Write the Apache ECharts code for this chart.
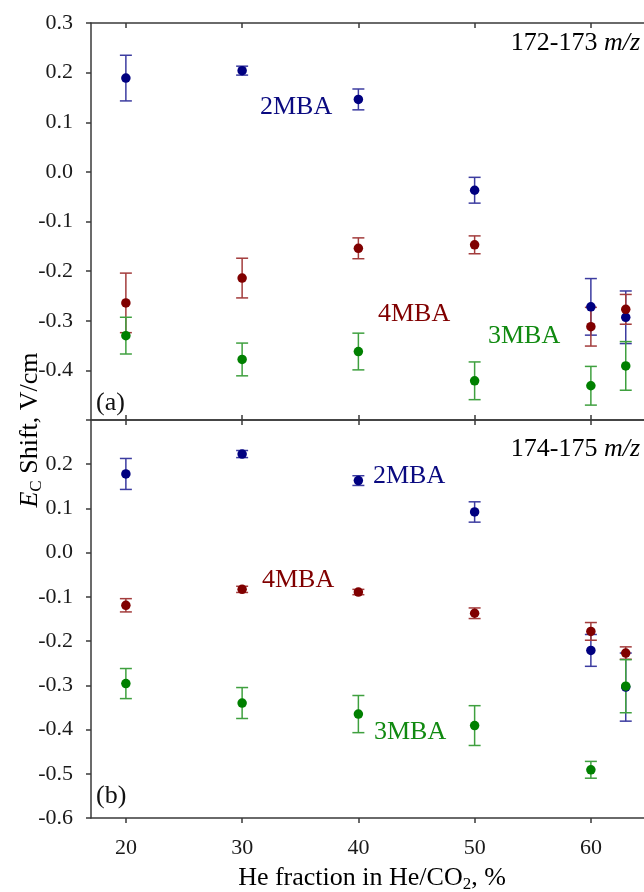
<!DOCTYPE html>
<html>
<head>
<meta charset="utf-8">
<script src="https://cdn.jsdelivr.net/npm/echarts@6/dist/echarts.min.js"></script>
<style>
  html, body { margin: 0; padding: 0; overflow: hidden; background: #fff; }
  #chart { width: 660px; height: 892px; }
</style>
</head>
<body>
<div id="chart"></div>
<script>
// He fraction in the He/CO2 carrier gas, %
const heFraction = [20, 30, 40, 50, 60, 63];
const xTicks = [20, 30, 40, 50, 60];

// (a) 172-173 m/z : EC shift (V/cm) and its uncertainty
const mba2A = [0.189, 0.204, 0.146, -0.037, -0.272, -0.293];
const err2A = [0.046, 0.009, 0.021, 0.026, 0.057, 0.053];
const mba4A = [-0.264, -0.214, -0.154, -0.147, -0.312, -0.277];
const err4A = [0.060, 0.040, 0.021, 0.018, 0.039, 0.030];
const mba3A = [-0.330, -0.378, -0.362, -0.421, -0.431, -0.391];
const err3A = [0.037, 0.033, 0.037, 0.038, 0.039, 0.049];

// (b) 174-175 m/z
const mba2B = [0.178, 0.223, 0.163, 0.092, -0.221, -0.304];
const err2B = [0.035, 0.008, 0.011, 0.023, 0.036, 0.077];
const mba4B = [-0.119, -0.083, -0.089, -0.137, -0.178, -0.227];
const err4B = [0.015, 0.007, 0.006, 0.012, 0.020, 0.014];
const mba3B = [-0.296, -0.340, -0.365, -0.391, -0.491, -0.302];
const err3B = [0.034, 0.035, 0.042, 0.045, 0.019, 0.060];

const FONT = '"Liberation Serif", "DejaVu Serif", serif';
const AXIS_COLOR = '#3a3a3a';
const COLORS = {
  mba2: { point: '#000080', bar: '#3c3ca0', text: '#0a0a80' },
  mba4: { point: '#800000', bar: '#a33c3c', text: '#800000' },
  mba3: { point: '#008000', bar: '#3fa03f', text: '#118a11' }
};

function rows(ys, errs) {
  return heFraction.map((x, i) => [x, ys[i], errs[i]]);
}

function errorBarItem(params, api) {
  const x = api.value(0), y = api.value(1), e = api.value(2);
  const hi = api.coord([x, y + e]);
  const lo = api.coord([x, y - e]);
  const hw = 6;
  const color = api.visual('color');
  const st = () => ({ stroke: color, lineWidth: 1.5 });
  return {
    type: 'group',
    children: [
      { type: 'line', shape: { x1: hi[0], y1: hi[1], x2: lo[0], y2: lo[1] }, style: st() },
      { type: 'line', shape: { x1: hi[0] - hw, y1: hi[1], x2: hi[0] + hw, y2: hi[1] }, style: st() },
      { type: 'line', shape: { x1: lo[0] - hw, y1: lo[1], x2: lo[0] + hw, y2: lo[1] }, style: st() }
    ]
  };
}

function seriesPair(name, ys, errs, color, axisIdx) {
  const data = rows(ys, errs);
  return [
    {
      type: 'custom', name: name + ' err',
      xAxisIndex: axisIdx, yAxisIndex: axisIdx,
      renderItem: errorBarItem, data: data,
      encode: { x: 0, y: 1 },
      itemStyle: { color: color.bar },
      clip: false, silent: true, z: 2
    },
    {
      type: 'scatter', name: name,
      xAxisIndex: axisIdx, yAxisIndex: axisIdx,
      data: data.map(r => [r[0], r[1]]),
      symbol: 'circle', symbolSize: 9.5,
      itemStyle: { color: color.point, opacity: 1 },
      silent: true, z: 3
    }
  ];
}

const axisLine = { show: true, onZero: false, lineStyle: { color: AXIS_COLOR, width: 1.5 } };
const tickStyle = { color: AXIS_COLOR, width: 1.5 };
const labelFont = { fontFamily: FONT, fontSize: 22, color: '#1a1a1a' };

function xAxisDef(grid, position, inside, showLabels) {
  return {
    type: 'value', gridIndex: grid, position: position,
    min: 17, max: 65,
    axisLine: axisLine,
    axisTick: { show: true, inside: inside, length: 5, lineStyle: tickStyle, customValues: xTicks },
    axisLabel: Object.assign({ show: showLabels, margin: 19, customValues: xTicks }, labelFont),
    splitLine: { show: false }
  };
}

function yAxisDef(grid, position, min, max, showLabels, hidden) {
  return {
    type: 'value', gridIndex: grid, position: position,
    min: min, max: max, interval: 0.1,
    axisLine: axisLine,
    axisTick: { show: true, inside: position === 'right', length: 5, lineStyle: tickStyle },
    axisLabel: Object.assign({
      show: showLabels, margin: 18,
      formatter: v => (Math.abs(v - hidden) < 1e-6 ? '' : v.toFixed(1))
    }, labelFont),
    splitLine: { show: false }
  };
}

function label(text, x, y, color, align) {
  return {
    type: 'text', x: x, y: y, silent: true,
    style: { text: text, fill: color, font: '26px ' + FONT, align: align || 'left', verticalAlign: 'middle' }
  };
}

const richBase = { fontFamily: FONT, fontSize: 26, color: '#111', lineHeight: 30 };

const option = {
  animation: false,
  backgroundColor: '#fff',
  grid: [
    { left: 91, top: 23, width: 558, height: 397 },
    { left: 91, top: 420, width: 558, height: 398 }
  ],
  xAxis: [
    xAxisDef(0, 'bottom', true, false),
    xAxisDef(0, 'top', true, false),
    xAxisDef(1, 'bottom', false, true),
    xAxisDef(1, 'top', true, false)
  ],
  yAxis: [
    yAxisDef(0, 'left', -0.5, 0.3, true, -0.5),
    yAxisDef(0, 'right', -0.5, 0.3, false, 99),
    yAxisDef(1, 'left', -0.6, 0.3, true, 0.3),
    yAxisDef(1, 'right', -0.6, 0.3, false, 99)
  ],
  series: [].concat(
    seriesPair('2MBA', mba2A, err2A, COLORS.mba2, 0),
    seriesPair('4MBA', mba4A, err4A, COLORS.mba4, 0),
    seriesPair('3MBA', mba3A, err3A, COLORS.mba3, 0),
    seriesPair('2MBA', mba2B, err2B, COLORS.mba2, 2),
    seriesPair('4MBA', mba4B, err4B, COLORS.mba4, 2),
    seriesPair('3MBA', mba3B, err3B, COLORS.mba3, 2)
  ),
  graphic: [
    // panel tags and ion ranges
    label('(a)', 96, 403, '#111'),
    label('(b)', 96, 796, '#111'),
    {
      type: 'text', x: 640, y: 43, silent: true,
      style: {
        text: '{n|172-173 }{i|m/z}', align: 'right', verticalAlign: 'middle',
        rich: { n: richBase, i: Object.assign({}, richBase, { fontStyle: 'italic' }) }
      }
    },
    {
      type: 'text', x: 640, y: 449, silent: true,
      style: {
        text: '{n|174-175 }{i|m/z}', align: 'right', verticalAlign: 'middle',
        rich: { n: richBase, i: Object.assign({}, richBase, { fontStyle: 'italic' }) }
      }
    },
    // compound names
    label('2MBA', 260, 107, COLORS.mba2.text),
    label('4MBA', 378, 314, COLORS.mba4.text),
    label('3MBA', 488, 336, COLORS.mba3.text),
    label('2MBA', 373, 476, COLORS.mba2.text),
    label('4MBA', 262, 580, COLORS.mba4.text),
    label('3MBA', 374, 732, COLORS.mba3.text),
    // axis titles
    {
      type: 'text', x: 372, y: 878, silent: true,
      style: {
        text: '{n|He fraction in He/CO}{s|2}{n|, %}', align: 'center', verticalAlign: 'middle',
        rich: {
          n: richBase,
          s: Object.assign({}, richBase, { fontSize: 17, lineHeight: 17, verticalAlign: 'bottom' })
        }
      }
    },
    {
      type: 'text', x: 30, y: 430, rotation: Math.PI / 2, silent: true,
      style: {
        text: '{e|E}{s|C}{n| Shift, V/cm}', align: 'center', verticalAlign: 'middle',
        rich: {
          n: richBase,
          e: Object.assign({}, richBase, { fontStyle: 'italic' }),
          s: Object.assign({}, richBase, { fontSize: 17, lineHeight: 17, verticalAlign: 'bottom' })
        }
      }
    }
  ]
};

const chart = echarts.init(document.getElementById('chart'), null, { renderer: 'canvas' });
chart.setOption(option);
</script>
</body>
</html>
